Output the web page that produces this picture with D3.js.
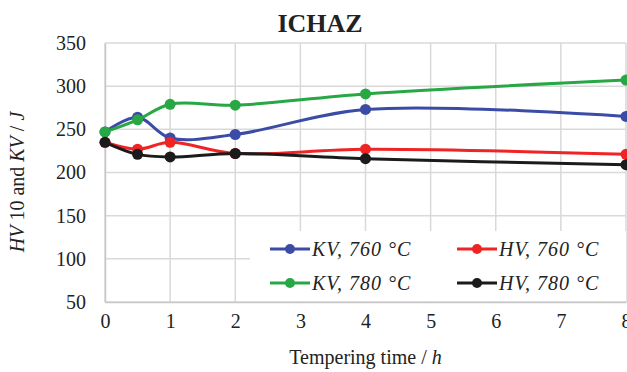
<!DOCTYPE html>
<html>
<head>
<meta charset="utf-8">
<script src="https://cdn.jsdelivr.net/npm/d3@7"></script>
<style>
  body { margin: 0; background: #fff; }
  svg text { font-family: "Liberation Serif", "Times New Roman", "DejaVu Serif", serif; fill: #222; }
</style>
</head>
<body>
<div id="chart"></div>
<script>
// Tempering time (h)
const times = [0, 0.5, 1, 2, 4, 8];
const kv760 = [247, 264, 240, 244, 273, 265];
const hv760 = [235, 227, 235, 222, 227, 221];
const kv780 = [247, 261, 279, 278, 291, 307];
const hv780 = [235, 221, 218, 222, 216, 209];
const xTicks = [0, 1, 2, 3, 4, 5, 6, 7, 8];
const yTicks = [50, 100, 150, 200, 250, 300, 350];

const seriesList = [
  { kind: "KV", temp: "760", values: kv760, color: "#3a4ca6" },
  { kind: "HV", temp: "760", values: hv760, color: "#f02424" },
  { kind: "KV", temp: "780", values: kv780, color: "#28a745" },
  { kind: "HV", temp: "780", values: hv780, color: "#1b1b1b" },
];

const serif = '"Liberation Serif", "Times New Roman", serif';
const W = 627, H = 372;
const margin = { top: 43, right: 1, bottom: 70, left: 105 };
const width = W - margin.left - margin.right,
  height = H - margin.top - margin.bottom;

const svg = d3.select("#chart").append("svg")
  .attr("width", W).attr("height", H)
  .attr("font-family", serif);

const g = svg.append("g")
  .attr("transform", `translate(${margin.left},${margin.top})`);

const x = d3.scaleLinear().domain([0, 8]).range([0, width]);
const y = d3.scaleLinear().domain([50, 350]).range([height, 0]);

// Gridlines
g.append("g").selectAll("line").data(yTicks).enter().append("line")
  .attr("x1", 0).attr("x2", width)
  .attr("y1", d => y(d)).attr("y2", d => y(d))
  .attr("stroke", "#d9d9d9").attr("stroke-width", 1.5);
g.append("g").selectAll("line").data(xTicks).enter().append("line")
  .attr("x1", d => x(d)).attr("x2", d => x(d))
  .attr("y1", 0).attr("y2", height)
  .attr("stroke", "#d9d9d9").attr("stroke-width", 1.5);

// Axes
const xAxis = g.append("g")
  .attr("transform", `translate(0,${height})`)
  .call(d3.axisBottom(x).tickValues(xTicks).tickSize(0).tickPadding(12).tickFormat(d3.format("d")));
const yAxis = g.append("g")
  .call(d3.axisLeft(y).tickValues(yTicks).tickSize(0).tickPadding(19));
[xAxis, yAxis].forEach(a => {
  a.attr("font-family", serif).attr("font-size", 20);
  a.select(".domain").attr("stroke", "#c8c8c8").attr("stroke-width", 1.5);
  a.selectAll("text").attr("fill", "#222");
});

// Lines
const line = d3.line()
  .x((d, i) => x(times[i]))
  .y(d => y(d))
  .curve(d3.curveCatmullRom.alpha(0.5));

seriesList.forEach(s => {
  g.append("path").datum(s.values)
    .attr("fill", "none")
    .attr("stroke", s.color)
    .attr("stroke-width", 3)
    .attr("d", line);
  g.selectAll(null).data(s.values).enter().append("circle")
    .attr("cx", (d, i) => x(times[i]))
    .attr("cy", d => y(d))
    .attr("r", 5.5)
    .attr("fill", s.color);
});

// Legend
const legend = svg.append("g");
legend.append("rect")
  .attr("x", 250).attr("y", 231).attr("width", 376).attr("height", 70)
  .attr("fill", "#fff");
const cols = [270, 457];
const rows = [249, 283];
seriesList.forEach((s, i) => {
  const lx = cols[i % 2], ly = rows[Math.floor(i / 2)];
  legend.append("line")
    .attr("x1", lx).attr("x2", lx + 40).attr("y1", ly).attr("y2", ly)
    .attr("stroke", s.color).attr("stroke-width", 3);
  legend.append("circle")
    .attr("cx", lx + 20).attr("cy", ly).attr("r", 5)
    .attr("fill", s.color);
  legend.append("text")
    .attr("x", lx + 42).attr("y", ly + 7)
    .attr("font-size", 20)
    .attr("font-style", "italic")
    .attr("letter-spacing", 1)
    .text(`${s.kind}, ${s.temp} °C`);
});

// Title
svg.append("text")
  .attr("x", 320).attr("y", 32)
  .attr("text-anchor", "middle")
  .attr("font-size", 26).attr("font-weight", "bold")
  .text("ICHAZ");

// Axis titles
const xt = svg.append("text")
  .attr("x", margin.left + width / 2).attr("y", 364)
  .attr("text-anchor", "middle").attr("font-size", 20);
xt.append("tspan").text("Tempering time / ");
xt.append("tspan").attr("font-style", "italic").text("h");

const yt = svg.append("text")
  .attr("transform", "translate(24,182) rotate(-90)")
  .attr("text-anchor", "middle").attr("font-size", 20);
yt.append("tspan").attr("font-style", "italic").text("HV");
yt.append("tspan").text(" 10 and ");
yt.append("tspan").attr("font-style", "italic").text("KV");
yt.append("tspan").text(" / ");
yt.append("tspan").attr("font-style", "italic").text("J");
</script>
</body>
</html>
